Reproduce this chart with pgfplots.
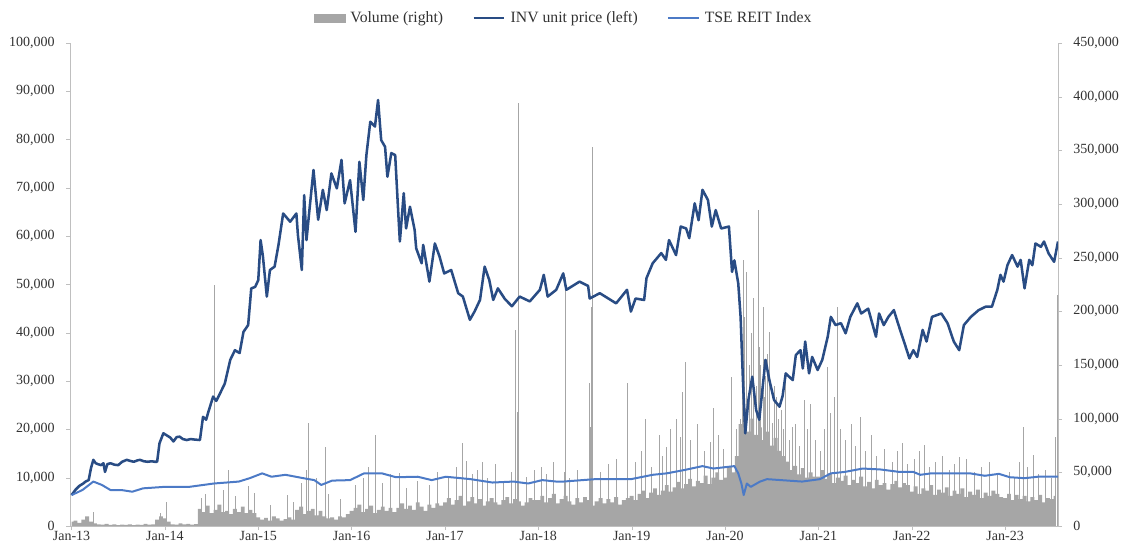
\documentclass[border=0pt]{standalone}
\usepackage{fontspec}
\setmainfont{Liberation Serif}
\usepackage{pgfplots}
\pgfplotsset{compat=1.18}
\definecolor{pricec}{RGB}{41,76,132}
\definecolor{tsec}{RGB}{76,122,198}
\definecolor{volc}{RGB}{166,166,166}
\definecolor{axc}{RGB}{191,191,191}
\definecolor{txtc}{RGB}{50,50,50}
\begin{document}
\begin{tikzpicture}[font=\fontsize{10.5}{12}\selectfont]
\path[use as bounding box] (-52.5pt,-13.5pt) rectangle (788.25pt,394.5pt);
\pgfplotsset{
  common/.style={width=741pt, height=362.25pt, scale only axis,
    xmin=-0.2, xmax=126.8, tick align=outside, major tick length=3pt,
    scaled y ticks=false, ticklabel style={text=txtc},
    /pgf/number format/fixed, /pgf/number format/precision=0,
    /pgf/number format/1000 sep={,}, /pgf/number format/assume math mode=true,
    axis line style={draw=axc}, tick style={draw=axc}},
}
% ---------- volume (right axis) ----------
\begin{axis}[common, axis x line=none, axis y line*=right,
  ymin=0, ymax=450000,
  ytick={0,50000,100000,150000,200000,250000,300000,350000,400000,450000},
  yticklabel style={xshift=5pt}]
\addplot[fill=volc, draw=none, const plot mark mid] table[row sep=\\, x expr=\coordindex*0.5, y=v] {
v\\
4000\\ 5000\\ 3000\\ 6000\\ 9000\\ 4000\\
2500\\ 1500\\ 1200\\ 2000\\ 1000\\ 1500\\ 800\\ 1200\\ 1000\\ 1600\\ 800\\ 1200\\ 1000\\ 2000\\ 1200\\ 1500\\
6000\\ 9000\\ 7000\\ 4000\\
1500\\ 1200\\ 2500\\ 1500\\ 2000\\ 1200\\ 1800\\
16000\\ 13000\\ 19000\\ 12000\\ 15000\\ 20000\\ 13000\\ 14000\\ 11000\\ 16000\\ 13000\\ 18000\\ 12000\\ 15000\\ 12000\\
8000\\ 6000\\ 7500\\ 5000\\ 9000\\ 7000\\ 5000\\ 6500\\ 8000\\ 6000\\
15000\\ 18000\\ 11000\\ 14000\\ 16000\\ 10000\\ 14000\\ 9000\\
7000\\ 8000\\ 6000\\ 9000\\ 8000\\ 11000\\
14000\\ 17000\\ 20000\\ 13000\\ 16000\\ 19000\\ 12000\\ 15000\\ 18000\\ 14000\\ 17000\\ 13000\\
17000\\ 21000\\ 16000\\ 19000\\ 15000\\ 22000\\ 18000\\ 14000\\ 20000\\ 17000\\ 21000\\ 19000\\
22000\\ 26000\\ 20000\\ 24000\\ 28000\\ 19000\\ 23000\\ 27000\\ 21000\\ 25000\\ 19000\\ 23000\\
26000\\ 22000\\ 20000\\ 24000\\ 27000\\ 21000\\ 25000\\ 23000\\ 19000\\ 22000\\ 26000\\ 24000\\
24000\\ 28000\\ 22000\\ 26000\\ 30000\\ 21000\\ 25000\\ 28000\\ 23000\\ 20000\\ 26000\\ 22000\\
27000\\ 24000\\ 19000\\ 23000\\ 26000\\ 21000\\ 25000\\ 22000\\ 27000\\ 20000\\ 24000\\ 26000\\
28000\\ 24000\\ 30000\\ 33000\\ 26000\\ 31000\\ 35000\\ 29000\\ 33000\\ 38000\\ 32000\\ 36000\\
41000\\ 35000\\ 39000\\ 44000\\ 37000\\ 42000\\ 40000\\ 47000\\ 39000\\ 45000\\ 50000\\ 43000\\
45000\\ 55000\\ 50000\\ 65000\\
95000\\ 110000\\ 88000\\ 100000\\ 85000\\ 92000\\ 80000\\ 88000\\ 75000\\ 82000\\ 70000\\ 65000\\
60000\\ 52000\\ 56000\\ 48000\\ 54000\\ 45000\\ 50000\\ 46000\\
46000\\ 52000\\ 44000\\ 49000\\ 40000\\ 45000\\ 42000\\ 47000\\ 38000\\ 43000\\ 40000\\ 46000\\
37000\\ 41000\\ 35000\\ 43000\\ 38000\\ 40000\\ 34000\\ 39000\\ 42000\\ 36000\\ 40000\\ 38000\\
32000\\ 37000\\ 30000\\ 35000\\ 33000\\ 38000\\ 29000\\ 34000\\ 31000\\ 36000\\ 28000\\ 33000\\
30000\\ 35000\\ 27000\\ 32000\\ 29000\\ 34000\\ 26000\\ 31000\\ 28000\\ 33000\\ 30000\\ 27000\\
26000\\ 30000\\ 24000\\ 29000\\ 25000\\ 28000\\ 23000\\ 27000\\ 24000\\ 29000\\ 22000\\ 26000\\ 25000\\ 28000\\
} \closedcycle;
\addplot[ycomb, draw=volc, line width=0.6pt, mark=none] coordinates {
(2.8,13000)(12.2,22700)(11.4,12000)(16.7,26000)(18.3,58700)(18.4,225000)(20.1,52000)(22.7,37000)
(27.8,29000)(30.2,52000)(30.4,96000)(32.6,74000)(39.0,85000)(42.2,49000)(50.3,77000)(50.8,61000)
(52.2,52000)(52.8,60000)(57.1,182600)(57.3,106000)(57.4,394000)(60.4,55000)(63.4,50000)(63.5,232000)
(66.6,133000)(66.7,92500)(66.8,204000)(67.0,353000)(71.4,133000)(71.5,77000)(73.8,100000)(76.4,74000)
(77.7,100000)(78.3,83000)(78.5,125000)(78.9,153000)(82.1,78500)(84.8,139000)(86.0,100000)(86.3,248000)
(86.5,195000)(86.8,237000)(87.1,150000)(87.7,212000)(88.0,130000)(88.3,294000)(88.4,167000)(88.9,204000)
(89.2,140000)(89.7,181000)(90.1,95700)(90.6,120000)(91.2,108000)(91.8,142000)(92.7,92500)(94.2,117000)
(95.0,114000)(97.2,148000)(98.4,204000)(101.4,102000)(106.8,77000)(109.6,75500)(114.1,64600)(121.8,60000)
(122.4,92500)(123.7,66000)(126.5,83000)(126.7,215000)
(17.2,30000)(19.5,34000)(21.0,28000)(23.5,31000)(25.5,20000)(28.5,22000)(29.5,40000)(31.5,45000)(33.0,30000)(34.5,25000)
(36.5,38000)(37.5,45000)(38.2,55000)(40.0,40000)(41.0,48000)(43.0,35000)(44.5,42000)(46.0,38000)(47.0,50000)
(48.5,45000)(49.5,55000)(51.5,48000)(53.5,45000)(54.5,58000)(55.5,42000)(56.5,50000)(58.5,46000)(59.5,52000)
(61.0,48000)(62.0,60000)(64.0,45000)(65.0,52000)(68.0,50000)(69.0,58000)(70.0,62000)
(72.5,60000)(73.2,70000)(74.5,55000)(75.5,85000)(76.0,65000)(77.0,90000)(79.5,80000)(80.5,95000)(81.3,70000)(82.5,110000)(83.2,85000)(83.8,72000)
(85.5,90000)(86.2,170000)(87.4,180000)(88.6,150000)(89.0,120000)(89.4,160000)(90.3,130000)(90.8,100000)(91.5,90000)
(92.3,80000)(93.0,95000)(93.6,75000)(94.6,90000)(95.6,80000)(96.3,70000)
(96.8,90000)(97.6,105000)(98.0,120000)(98.8,90000)(99.5,80000)(100.2,95000)(100.8,75000)(102.0,70000)(102.8,85000)(103.5,65000)(104.5,72000)(105.5,60000)(106.2,70000)(107.4,58000)
(108.4,62000)(109.0,70000)(110.3,55000)(111.0,60000)(112.0,65000)(112.8,52000)(113.5,58000)(115.0,62000)(116.0,50000)(117.0,55000)(118.0,60000)(119.0,48000)
(120.5,50000)(121.2,45000)(122.9,55000)(124.3,48000)(125.2,52000)(125.9,45000)
};
\end{axis}
% ---------- price & index (left axis) ----------
\begin{axis}[common, axis x line*=bottom, axis y line*=left,
  ymin=0, ymax=100000,
  ytick={0,10000,20000,30000,40000,50000,60000,70000,80000,90000,100000},
  yticklabel style={xshift=-5pt},
  xticklabel style={yshift=2.5pt},
  xtick={0,12,24,36,48,60,72,84,96,108,120},
  xticklabels={Jan-13,Jan-14,Jan-15,Jan-16,Jan-17,Jan-18,Jan-19,Jan-20,Jan-21,Jan-22,Jan-23},
  legend columns=3,
  legend style={draw=none, fill=none, at={(0.5,1)}, anchor=center, yshift=18.75pt,
    font=\fontsize{11.8}{13}\selectfont, text=txtc,
    /tikz/every odd column/.append style={column sep=2pt},
    /tikz/every even column/.append style={column sep=20pt}},
  legend cell align=left,
  ]
\addlegendimage{legend image code/.code={\fill[volc] (0pt,-3pt) rectangle (23pt,3pt);}}
\addlegendentry{Volume (right)}
\addplot[pricec, line width=1.9pt, line join=round,
  legend image code/.code={\draw[pricec, line width=1.6pt] (0pt,0pt) -- (23pt,0pt);}] coordinates {
(0,6400)(0.5,7500)(1.0,8300)(1.5,8800)(1.8,9200)(2.2,9500)(2.5,12000)(2.8,13700)(3.1,13000)(3.4,12800)
(3.8,12600)(4.1,13000)(4.3,11200)(4.6,12800)(5.0,13000)(5.5,12700)(6.0,12600)(6.5,13300)(7.1,13700)(7.5,13500)
(8.0,13300)(8.5,13600)(8.8,13700)(9.3,13400)(9.8,13300)(10.3,13400)(10.7,13300)(11.0,13300)(11.3,17100)(11.8,19200)
(12.3,18700)(12.7,18300)(13.1,17500)(13.5,18400)(13.9,18500)(14.3,18000)(14.8,17800)(15.3,18000)(15.8,17900)(16.5,17800)
(16.9,22600)(17.3,22000)(17.6,23700)(18.2,26800)(18.6,25900)(19.1,27500)(19.7,29500)(20.4,34400)(21.0,36400)(21.6,35800)
(22.1,40200)(22.7,41600)(23.1,49200)(23.6,49500)(24.0,50900)(24.3,59200)(24.6,55800)(25.1,47500)(25.5,53000)(26.1,53700)
(26.6,58200)(27.2,64700)(28.1,63000)(28.9,64700)(29.1,60200)(29.6,53000)(29.9,68500)(30.2,59200)(30.6,65800)(31.1,73700)
(31.7,63400)(32.3,69600)(32.8,65400)(33.4,73000)(34.1,69900)(34.7,75800)(35.1,66800)(35.8,71600)(36.5,60900)(37.0,75400)
(37.5,67500)(37.9,76800)(38.4,83700)(39.0,82700)(39.4,88200)(39.8,79900)(40.3,78500)(40.6,72300)(41.1,77200)(41.6,76800)
(42.0,64700)(42.2,58900)(42.7,68900)(43.0,61600)(43.5,66100)(44.1,61300)(44.3,57500)(45.0,54400)(45.2,58200)(46.0,50600)
(46.7,58500)(47.3,55800)(47.9,52300)(48.8,53000)(49.7,48200)(50.3,47500)(51.2,42700)(51.8,44400)(52.5,46800)(53.1,53700)
(53.7,50900)(54.2,46800)(54.8,49200)(55.7,47000)(56.6,45500)(57.6,47500)(58.9,46500)(60.2,48900)(60.7,52000)(61.2,47500)
(62.3,48900)(63.2,52300)(63.6,48900)(65.3,50600)(66.4,49700)(66.6,47100)(67.9,48200)(70.0,46100)(71.4,48900)(71.9,44400)
(72.5,47100)(73.6,46800)(73.9,51300)(74.7,54400)(75.8,56500)(76.4,55100)(76.8,59200)(77.7,56100)(78.3,62000)(79.0,61600)
(79.4,59600)(80.1,66800)(80.6,63300)(81.1,69600)(81.8,67500)(82.3,62000)(82.8,65400)(83.5,61600)(84.5,62000)(84.9,52600)
(85.2,55000)(85.7,50200)(86.0,43300)(86.3,30200)(86.6,19200)(87.0,26100)(87.5,30900)(88.0,24000)(88.4,22000)(89.2,34400)
(89.7,30200)(90.3,26100)(91.0,24700)(91.4,26900)(91.8,31600)(92.7,30200)(93.1,35400)(93.7,36400)(94.0,32600)(94.3,38200)
(94.8,31600)(95.2,35000)(95.9,32300)(96.5,34400)(97.2,39200)(97.6,43300)(98.2,41600)(98.9,42000)(99.5,39900)(100.1,43300)
(101.0,46100)(101.5,44000)(102.4,45000)(103.4,39200)(103.8,44000)(104.4,41600)(105.0,43300)(105.7,44700)(106.3,41600)(107.0,38200)
(107.7,34700)(108.2,36400)(108.7,35000)(109.4,40600)(109.9,38200)(110.6,43300)(111.8,44000)(112.6,42000)(113.4,38200)(114.1,36400)
(114.7,41600)(115.6,43300)(116.6,44700)(117.5,45400)(118.3,45400)(119.0,48900)(119.4,52000)(119.8,50600)(120.3,54000)(120.9,56100)
(121.6,53700)(122.0,55100)(122.5,49200)(123.1,55100)(123.5,54000)(123.9,58500)(124.6,57800)(125.0,58900)(125.6,56400)(126.3,54700)
(126.8,58900)
};
\addlegendentry{INV unit price (left)}
\addplot[tsec, line width=1.5pt, line join=round,
  legend image code/.code={\draw[tsec, line width=1.3pt] (0pt,0pt) -- (23pt,0pt);}] coordinates {
(0,6400)(1.4,7450)(2.8,9200)(3.9,8500)(5.0,7450)(6.4,7450)(7.8,7100)(9.2,7800)(11.9,8100)(15.1,8100)
(18.3,8800)(21.5,9200)(22.9,9900)(24.5,10900)(25.7,10200)(27.5,10600)(29.8,9900)(31.2,9500)(32.1,8500)(33.5,9400)
(35.8,9500)(36.7,10200)(37.6,10900)(39.9,10900)(41.7,10100)(44.5,10200)(46.3,9500)(48.1,10200)(51.3,9700)(54.1,9000)
(56.8,9200)(58.7,8800)(60.5,9500)(62.3,9200)(63.2,9200)(67.3,9700)(71.9,9700)(74.7,10600)(76.5,10900)(78.8,11600)
(81.1,12400)(82.5,11900)(85.2,12400)(85.7,10900)(86.1,8800)(86.4,6400)(86.8,8800)(87.3,8100)(88.5,9200)(89.4,9700)
(92.1,9400)(93.9,9200)(96.2,9700)(97.6,10900)(99.4,11200)(101.7,11900)(104.0,11700)(106.4,11200)(108.2,11200)(109.1,10600)
(110.5,10900)(113.2,10900)(115.5,10900)(117.4,10400)(119.2,10800)(120.6,10100)(122.5,9900)(124.2,10200)(126.8,10200)
};
\addlegendentry{TSE REIT Index}
\node[text=txtc] at (rel axis cs:0,1) [xshift=-24.75pt, yshift=18.75pt] {(¥)};
\node[text=txtc] at (rel axis cs:1,1) [xshift=20pt, yshift=18.75pt] {(Unit)};
\end{axis}
\end{tikzpicture}
\end{document}
